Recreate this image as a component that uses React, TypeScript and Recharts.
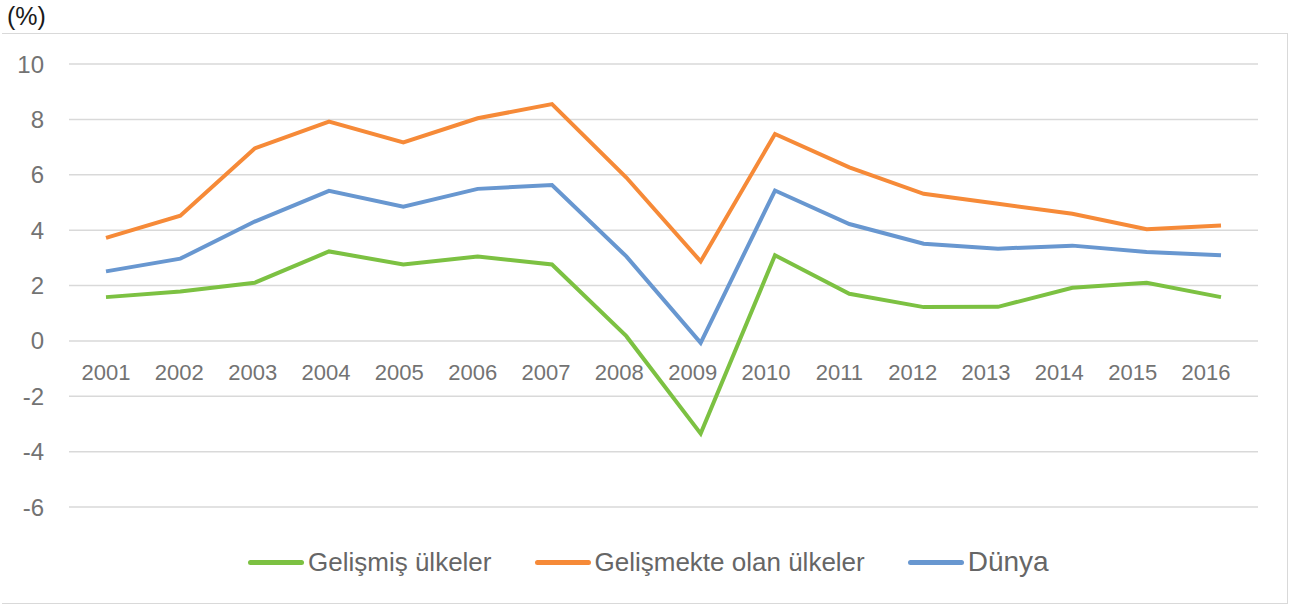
import { LineChart, Line, XAxis, YAxis, CartesianGrid } from "recharts";

const years = [
  "2001", "2002", "2003", "2004", "2005", "2006", "2007", "2008",
  "2009", "2010", "2011", "2012", "2013", "2014", "2015", "2016",
];
const developed = [1.58, 1.78, 2.1, 3.23, 2.76, 3.05, 2.76, 0.17, -3.35, 3.09, 1.7, 1.22, 1.23, 1.92, 2.1, 1.58];
const developing = [3.72, 4.52, 6.95, 7.92, 7.17, 8.04, 8.55, 5.9, 2.87, 7.47, 6.27, 5.31, 4.95, 4.59, 4.03, 4.17];
const world = [2.51, 2.97, 4.31, 5.42, 4.85, 5.49, 5.63, 3.05, -0.07, 5.43, 4.22, 3.51, 3.33, 3.44, 3.21, 3.09];
const yTicks = [-6, -4, -2, 0, 2, 4, 6, 8, 10];

const SERIES = [
  { key: "developed", name: "Gelişmiş ülkeler", color: "#7CC142", fontSize: 26 },
  { key: "developing", name: "Gelişmekte olan ülkeler", color: "#F68A38", fontSize: 26 },
  { key: "world", name: "Dünya", color: "#6897D0", fontSize: 28 },
];

const data = years.map((year, i) => ({
  year,
  developed: developed[i],
  developing: developing[i],
  world: world[i],
}));

const FONT = '"Liberation Sans", Arial, sans-serif';
const GRAY = "#737373";

// year labels sit just under the zero line, not at the bottom of the plot
function YearTick(props: { x?: number; y?: number; payload?: { value: string } }) {
  const { x = 0, y = 0, payload } = props;
  return (
    <text x={x} y={y - 127} textAnchor="middle" fontSize={22} fill={GRAY} fontFamily={FONT}>
      {payload?.value}
    </text>
  );
}

export default function App() {
  return (
    <div
      style={{
        position: "absolute",
        left: 0,
        top: 0,
        width: 1298,
        height: 604,
        background: "#fff",
        fontFamily: FONT,
      }}
    >
      <div
        style={{
          position: "absolute",
          left: 2,
          top: 33,
          width: 1286,
          height: 571,
          boxSizing: "border-box",
          borderTop: "1.5px solid #d9d9d9",
          borderRight: "1.5px solid #d9d9d9",
          borderBottom: "1.5px solid #d9d9d9",
        }}
      />
      <div style={{ position: "absolute", left: 7, top: 2, fontSize: 25, color: "#1a1a1a" }}>(%)</div>

      <div style={{ position: "absolute", left: 0, top: 0 }}>
        <LineChart width={1298} height={604} data={data} margin={{ top: 64, right: 40, left: 0, bottom: 67 }}>
          <CartesianGrid vertical={false} stroke="#d9d9d9" strokeWidth={1.5} />
          <XAxis xAxisId={0} dataKey="year" hide height={0} padding={{ left: 37, right: 37 }} />
          <XAxis
            xAxisId="lbl"
            dataKey="year"
            height={30}
            axisLine={false}
            tickLine={false}
            tickSize={0}
            tickMargin={0}
            interval={0}
            padding={{ left: 37, right: 52 }}
            tick={<YearTick />}
          />
          <YAxis
            width={69}
            domain={[-6, 10]}
            ticks={yTicks}
            interval={0}
            axisLine={false}
            tickLine={false}
            tickSize={0}
            tickMargin={25}
            tick={{ fontSize: 24, fill: GRAY, fontFamily: FONT }}
          />
          {SERIES.map((s) => (
            <Line
              key={s.key}
              type="linear"
              dataKey={s.key}
              name={s.name}
              stroke={s.color}
              strokeWidth={4}
              dot={false}
              activeDot={false}
              isAnimationActive={false}
            />
          ))}
        </LineChart>
      </div>

      <div
        style={{
          position: "absolute",
          left: 248,
          top: 545,
          height: 34,
          display: "flex",
          alignItems: "center",
          gap: 43,
        }}
      >
        {SERIES.map((s) => (
          <div key={s.key} style={{ display: "flex", alignItems: "center" }}>
            <div style={{ width: 56, height: 5, borderRadius: 3, background: s.color, marginRight: 4 }} />
            <span style={{ fontSize: s.fontSize, color: "#666", lineHeight: 1 }}>{s.name}</span>
          </div>
        ))}
      </div>
    </div>
  );
}
